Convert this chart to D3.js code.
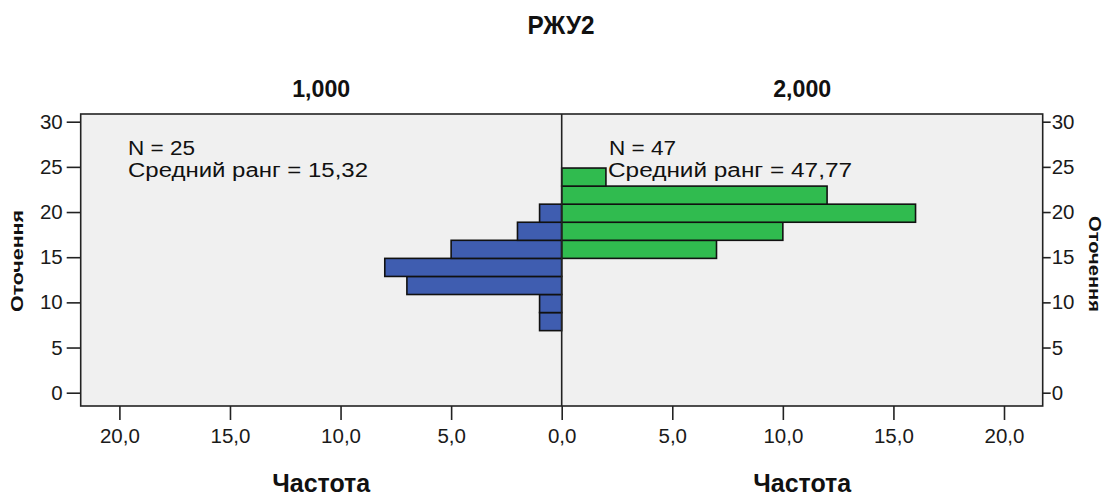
<!DOCTYPE html>
<html>
<head>
<meta charset="utf-8">
<script src="https://cdn.jsdelivr.net/npm/d3@7"></script>
<style>
  html, body { margin: 0; padding: 0; background: #fff; }
  svg { display: block; font-family: "Liberation Sans", Arial, sans-serif; }
</style>
</head>
<body>
<svg id="chart" width="1113" height="499"></svg>
<script>
// ---- data ----
const chartTitle = "РЖУ2";
const groups = ["1,000", "2,000"];
const binStarts = [6.87, 8.87, 10.87, 12.87, 14.87, 16.87, 18.87, 20.87, 22.87];
const binWidth = 2;
const countsGroup1 = [1, 1, 7, 8, 5, 2, 1, 0, 0];
const countsGroup2 = [0, 0, 0, 0, 7, 10, 16, 12, 2];
const nLabels = ["N = 25", "N = 47"];
const rankLabels = ["Средний ранг = 15,32", "Средний ранг = 47,77"];
const yTicks = [0, 5, 10, 15, 20, 25, 30];
const xTicksLeft = [20, 15, 10, 5, 0];
const xTicksRight = [0, 5, 10, 15, 20];
const yLabel = "Оточення";
const xLabel = "Частота";

// ---- layout ----
const svg = d3.select("#chart");
const pL = 80.7, pR = 1042.7, pT = 114, pB = 406, pMid = 561.7;
const xMax = 21.75;

const xL = d3.scaleLinear().domain([xMax, 0]).range([pL, pMid]);
const xR = d3.scaleLinear().domain([0, xMax]).range([pMid, pR]);
const y = d3.scaleLinear().domain([0, 30]).range([392.7, 121.7]);

const fmt = v => d3.format(".1f")(v).replace(".", ",");

// background
svg.append("rect").attr("x", pL).attr("y", pT)
  .attr("width", pR - pL).attr("height", pB - pT)
  .attr("fill", "#f0f0f0");

// bars
const blue = "#3f5db0", green = "#30bb4f";
const d1 = binStarts.map((b, i) => ({ b, c: countsGroup1[i] })).filter(d => d.c > 0);
const d2 = binStarts.map((b, i) => ({ b, c: countsGroup2[i] })).filter(d => d.c > 0);

svg.append("g").selectAll("rect").data(d1).join("rect")
  .attr("x", d => xL(d.c)).attr("width", d => xL(0) - xL(d.c))
  .attr("y", d => y(d.b + binWidth)).attr("height", d => y(d.b) - y(d.b + binWidth))
  .attr("fill", blue).attr("stroke", "#111").attr("stroke-width", 1.6);

svg.append("g").selectAll("rect").data(d2).join("rect")
  .attr("x", xR(0)).attr("width", d => xR(d.c) - xR(0))
  .attr("y", d => y(d.b + binWidth)).attr("height", d => y(d.b) - y(d.b + binWidth))
  .attr("fill", green).attr("stroke", "#111").attr("stroke-width", 1.6);

// frame and middle line
svg.append("rect").attr("x", pL).attr("y", pT)
  .attr("width", pR - pL).attr("height", pB - pT)
  .attr("fill", "none").attr("stroke", "#222").attr("stroke-width", 1.6);
svg.append("line").attr("x1", pMid).attr("x2", pMid).attr("y1", pT).attr("y2", pB)
  .attr("stroke", "#222").attr("stroke-width", 1.6);

// axes
function styleAxis(g) {
  g.select(".domain").remove();
  g.selectAll(".tick line").attr("stroke", "#222").attr("stroke-width", 1.6);
  g.selectAll(".tick text").attr("fill", "#1a1a1a").style("font-size", "20.5px")
    .style("font-family", "'Liberation Sans', Arial, sans-serif");
}
svg.append("g").attr("transform", `translate(${pL},0)`)
  .call(d3.axisLeft(y).tickValues(yTicks).tickSize(14).tickPadding(4).tickFormat(d3.format("d")))
  .call(styleAxis);
svg.append("g").attr("transform", `translate(${pR},0)`)
  .call(d3.axisRight(y).tickValues(yTicks).tickSize(8).tickPadding(1).tickFormat(d3.format("d")))
  .call(styleAxis);
svg.append("g").attr("transform", `translate(0,${pB})`)
  .call(d3.axisBottom(xL).tickValues(xTicksLeft).tickSize(14).tickPadding(8).tickFormat(fmt))
  .call(styleAxis);
svg.append("g").attr("transform", `translate(0,${pB})`)
  .call(d3.axisBottom(xR).tickValues(xTicksRight.filter(v => v > 0)).tickSize(14).tickPadding(8).tickFormat(fmt))
  .call(styleAxis);

// text helper
function txt(x, yy, s, size, weight, anchor, len, rot) {
  const t = svg.append("text")
    .attr("x", x).attr("y", yy).text(s)
    .attr("text-anchor", anchor || "start")
    .style("font-size", size + "px").style("font-weight", weight || "normal")
    .attr("fill", "#111");
  if (len) t.attr("textLength", len).attr("lengthAdjust", "spacingAndGlyphs");
  if (rot) t.attr("transform", `rotate(${rot},${x},${yy})`);
  return t;
}

// title and group labels
txt(561, 34, chartTitle, 25, "bold", "middle", 67);
txt((pL + pMid) / 2, 97, groups[0], 24, "bold", "middle", 58);
txt((pMid + pR) / 2, 97, groups[1], 24, "bold", "middle", 58);

// annotations
txt(128, 155, nLabels[0], 20, "normal", "start", 67);
txt(128, 177, rankLabels[0], 20, "normal", "start", 240);
txt(609, 155, nLabels[1], 20, "normal", "start", 67);
txt(608, 177, rankLabels[1], 20, "normal", "start", 244);

// axis titles
txt((pL + pMid) / 2, 492, xLabel, 25, "bold", "middle", 98);
txt((pMid + pR) / 2, 492, xLabel, 25, "bold", "middle", 98);
txt(23, 261, yLabel, 17, "bold", "middle", 102, -90);
txt(1089, 264, yLabel, 17, "bold", "middle", 96, 90);
</script>
</body>
</html>
